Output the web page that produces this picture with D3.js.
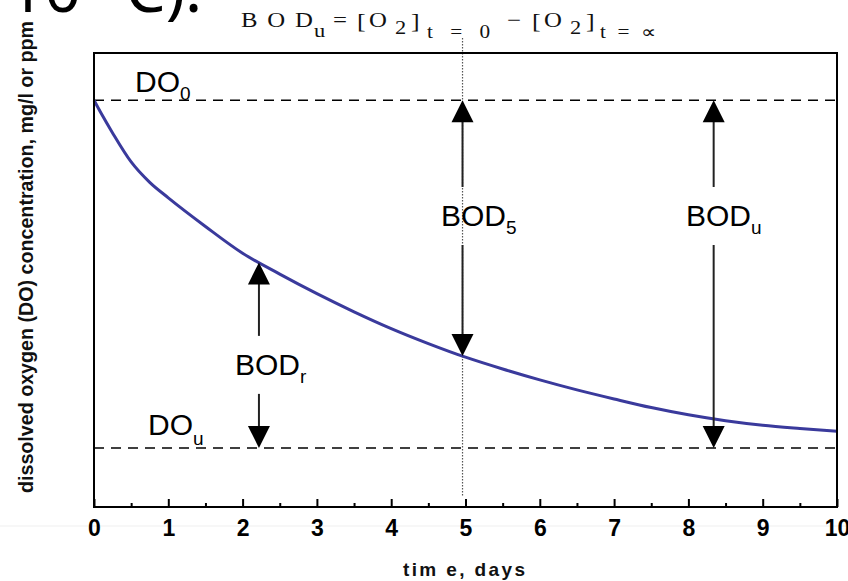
<!DOCTYPE html>
<html lang="en">
<head>
<meta charset="utf-8">
<title>BOD curve</title>
<script src="https://cdn.jsdelivr.net/npm/d3@7"></script>
<style>
  body { margin: 0; background: #fff; }
  svg { display: block; font-family: "Liberation Sans", Arial, sans-serif; }
  .tick text { font-size: 23px; font-weight: bold; fill: #000; }
  .tick line { stroke: #000; stroke-width: 2px; }
  .formula { font-family: "Liberation Serif", "Times New Roman", serif; fill: #111; }
</style>
</head>
<body>
<script>

// values (y in arbitrary DO units, 0..10 box)
var days = [0, 0.1, 0.25, 0.5, 0.75, 1, 1.5, 2, 2.5, 3, 3.5, 4, 4.5, 5, 5.5, 6, 6.5, 7, 7.5, 8, 8.5, 9, 9.5, 10];
var doValues = [8.96, 8.66, 8.24, 7.60, 7.15, 6.81, 6.18, 5.59, 5.13, 4.70, 4.30, 3.93, 3.60, 3.30, 3.04, 2.80, 2.58, 2.38, 2.19, 2.03, 1.90, 1.80, 1.73, 1.67];
var xTicks = [0, 1, 2, 3, 4, 5, 6, 7, 8, 9, 10];
var xMinorTicks = [0.5, 1.5, 2.5, 3.5, 4.5, 5.5, 6.5, 7.5, 8.5, 9.5];
var do0 = 8.96;
var doU = 1.30;
var dottedDay = 4.96;

// BOD arrows
var arrowDays = [2.22, 4.96, 8.34];
var arrowSubs = ["r", "5", "u"];
var arrowLabelY = [2.91, 6.19, 6.19];
var arrowTop = ["curve", "do0", "do0"];
var arrowBottom = ["dou", "curve", "dou"];

(function () {
var w = 848, h = 581;
var boxL = 94, boxR = 837, boxT = 53, boxB = 507;

var x = d3.scaleLinear().domain([0, 10]).range([boxL, boxR]);
var y = d3.scaleLinear().domain([0, 10]).range([boxB, boxT]);

function doAt(t) {
  var i = d3.bisectLeft(days, t);
  if (i <= 0) return doValues[0];
  if (i >= days.length) return doValues[days.length - 1];
  var t0 = days[i - 1], t1 = days[i];
  return doValues[i - 1] + (doValues[i] - doValues[i - 1]) * (t - t0) / (t1 - t0);
}

var svg = d3.select("body").append("svg")
  .attr("width", w)
  .attr("height", h);

// faint seam line under the axis
svg.append("line")
  .attr("x1", 0).attr("x2", w)
  .attr("y1", 526).attr("y2", 526)
  .attr("stroke", "#efefef")
  .attr("stroke-width", 1);

// big cut-off text in top corner
svg.append("text")
  .attr("x", 8)
  .attr("y", 12)
  .style("font-family", "'Noto Sans', sans-serif")
  .style("font-size", "64px")
  .attr("fill", "#000")
  .text("10 °C).");

// formula (the source is stretched sideways a little)
var formula = svg.append("g").attr("class", "formula");
var pieces = [
  { t: "BOD", x: 241, y: 27, s: 21, len: 72 },
  { t: "u", x: 314, y: 37, s: 19 },
  { t: "=", x: 333, y: 27, s: 21 },
  { t: "[", x: 357, y: 28, s: 22 },
  { t: "O", x: 369, y: 27, s: 21 },
  { t: "2", x: 395, y: 34, s: 19 },
  { t: "]", x: 411, y: 28, s: 22 },
  { t: "t=0", x: 427, y: 38, s: 18, len: 63 },
  { t: "\u2212", x: 507, y: 27, s: 21 },
  { t: "[", x: 532, y: 28, s: 22 },
  { t: "O", x: 544, y: 27, s: 21 },
  { t: "2", x: 570, y: 34, s: 19 },
  { t: "]", x: 586, y: 28, s: 22 },
  { t: "t=\u221D", x: 600, y: 38, s: 18, len: 56 }
];
var sx = 1.18;
pieces.forEach(function (p) {
  var t = formula.append("text")
    .attr("transform", "translate(" + p.x + "," + p.y + ") scale(" + sx + ",1)")
    .style("font-size", p.s + "px")
    .text(p.t);
  if (p.len) t.attr("textLength", p.len / sx).attr("lengthAdjust", "spacing");
});

// dotted line at day 5
svg.append("line")
  .attr("x1", x(dottedDay)).attr("x2", x(dottedDay))
  .attr("y1", 38).attr("y2", boxB - 10)
  .attr("stroke", "#555")
  .attr("stroke-width", 1.2)
  .attr("stroke-dasharray", "1.5,1.5");

// DO0 and DOu dashed lines
svg.selectAll(".dash")
  .data([do0, doU])
  .enter().append("line")
  .attr("class", "dash")
  .attr("x1", x(0)).attr("x2", x(10))
  .attr("y1", function (d) { return y(d); })
  .attr("y2", function (d) { return y(d); })
  .attr("stroke", "#000")
  .attr("stroke-width", 1.6)
  .attr("stroke-dasharray", "10,7");

// the curve
var line = d3.line()
  .x(function (d, i) { return x(days[i]); })
  .y(function (d) { return y(d); })
  .curve(d3.curveMonotoneX);

svg.append("path")
  .datum(doValues)
  .attr("d", line)
  .attr("fill", "none")
  .attr("stroke", "#3a3a9c")
  .attr("stroke-width", 3);

// axes (ticks inside)
var xAxis = d3.axisBottom(x)
  .tickValues(xTicks)
  .tickFormat(d3.format("d"))
  .tickSizeInner(-8)
  .tickSizeOuter(0)
  .tickPadding(13);

var gx = svg.append("g")
  .attr("transform", "translate(0," + boxB + ")")
  .call(xAxis);
gx.select(".domain").remove();
gx.selectAll(".tick text").attr("y", 13).attr("dy", "0.71em");

var gm = svg.append("g")
  .attr("transform", "translate(0," + boxB + ")")
  .call(d3.axisBottom(x).tickValues(xMinorTicks).tickFormat("").tickSizeInner(-4).tickSizeOuter(0));
gm.select(".domain").remove();

// frame
svg.append("rect")
  .attr("x", boxL).attr("y", boxT)
  .attr("width", boxR - boxL).attr("height", boxB - boxT)
  .attr("fill", "none")
  .attr("stroke", "#000")
  .attr("stroke-width", 2);

// labels with subscripts
function subLabel(px, py, main, sub, dy) {
  var t = svg.append("text")
    .attr("x", px).attr("y", py)
    .style("font-size", "30px")
    .attr("fill", "#000");
  t.append("tspan").text(main);
  t.append("tspan").attr("dy", dy).style("font-size", "19px").text(sub);
}

subLabel(135, y(do0) - 8, "DO", "0", 8);
subLabel(148, y(doU) - 13, "DO", "u", 10);

// arrows
function endValue(kind, t) {
  if (kind === "curve") return doAt(t);
  if (kind === "do0") return do0;
  return doU;
}

var arrowG = svg.append("g");
arrowDays.forEach(function (t, i) {
  var ax = x(t);
  var yTop = y(endValue(arrowTop[i], t));
  var yBot = y(endValue(arrowBottom[i], t));
  var base = y(arrowLabelY[i]);

  // up arrow
  arrowG.append("line")
    .attr("x1", ax).attr("x2", ax)
    .attr("y1", yTop + 18).attr("y2", base - 39)
    .attr("stroke", "#222").attr("stroke-width", 2);
  arrowG.append("path")
    .attr("d", "M" + ax + "," + yTop + "L" + (ax - 11) + "," + (yTop + 22) + "L" + (ax + 11) + "," + (yTop + 22) + "Z")
    .attr("fill", "#000");

  // down arrow
  arrowG.append("line")
    .attr("x1", ax).attr("x2", ax)
    .attr("y1", base + 19).attr("y2", yBot - 18)
    .attr("stroke", "#222").attr("stroke-width", 2);
  arrowG.append("path")
    .attr("d", "M" + ax + "," + yBot + "L" + (ax - 11) + "," + (yBot - 22) + "L" + (ax + 11) + "," + (yBot - 22) + "Z")
    .attr("fill", "#000");

  var lx = [235, 441, 686][i];
  subLabel(lx, base, "BOD", arrowSubs[i], 8);
});

// axis titles
svg.append("text")
  .attr("transform", "translate(33,257) rotate(-90)")
  .attr("text-anchor", "middle")
  .attr("textLength", 472)
  .attr("lengthAdjust", "spacingAndGlyphs")
  .style("font-size", "21px")
  .style("font-weight", "bold")
  .attr("fill", "#111")
  .text("dissolved oxygen (DO) concentration, mg/l or ppm");

svg.append("text")
  .attr("x", 403).attr("y", 576)
  .attr("textLength", 122)
  .attr("lengthAdjust", "spacing")
  .style("font-size", "19px")
  .style("font-weight", "bold")
  .attr("fill", "#111")
  .text("tim e, days");
})();

</script>
</body>
</html>
